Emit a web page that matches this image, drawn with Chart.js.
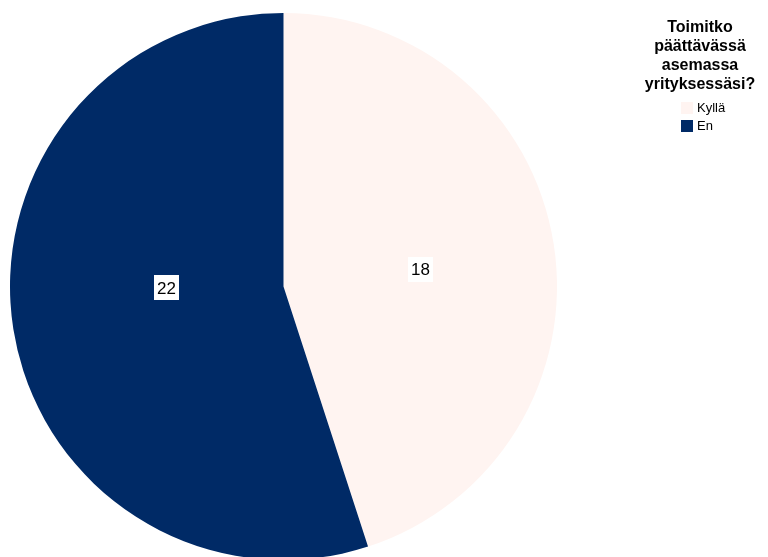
<!DOCTYPE html>
<html>
<head>
<meta charset="utf-8">
<script src="https://cdn.jsdelivr.net/npm/chart.js@4"></script>
<style>
  html, body { margin: 0; padding: 0; background: #fff; overflow: hidden; }
  #wrap { position: relative; width: 768px; height: 557px; overflow: hidden; }
  #chart { position: absolute; left: 0; top: 0; }
  #legend { position: absolute; left: 630px; top: 17px; width: 140px; font-family: "Liberation Sans", Arial, sans-serif; }
  #legend .title { font-weight: bold; font-size: 16px; line-height: 19px; text-align: center; color: #000; }
  #legend ul { list-style: none; margin: 6px 0 0 51px; padding: 0; }
  #legend li { font-size: 13px; line-height: 18px; height: 18px; color: #000; display: flex; align-items: center; }
  #legend .sw { width: 12px; height: 12px; margin-right: 4px; display: inline-block; }
</style>
</head>
<body>
<div id="wrap">
  <canvas id="chart" width="768" height="600"></canvas>
  <div id="legend"></div>
</div>
<script>
// Survey answers: "Toimitko päättävässä asemassa yrityksessäsi?"
const legendTitle = ["Toimitko", "päättävässä", "asemassa", "yrityksessäsi?"];
const categories = ["Kyllä", "En"];
const counts = [18, 22];
const sliceColors = ["#FFF4F1", "#002A66"];

// Draws each value in a white box near the slice centroid
const valueLabels = {
  id: "valueLabels",
  afterDatasetsDraw(chart, args, opts) {
    const ctx = chart.ctx;
    const meta = chart.getDatasetMeta(0);
    const nudge = opts.nudge || [];
    ctx.save();
    ctx.font = "17px 'Liberation Sans', Arial, sans-serif";
    ctx.textAlign = "center";
    ctx.textBaseline = "middle";
    meta.data.forEach((arc, i) => {
      const p = arc.tooltipPosition();
      const n = nudge[i] || [0, 0];
      const x = p.x + n[0], y = p.y + n[1];
      const text = String(chart.data.datasets[0].data[i]);
      const w = ctx.measureText(text).width + 6;
      const h = 25;
      ctx.fillStyle = "#fff";
      ctx.fillRect(Math.round(x - w / 2), Math.round(y - h / 2), Math.round(w), h);
      ctx.fillStyle = "#000";
      ctx.fillText(text, x, y + 1);
    });
    ctx.restore();
  }
};

new Chart(document.getElementById("chart"), {
  type: "pie",
  data: {
    labels: categories,
    datasets: [{
      data: counts,
      backgroundColor: sliceColors,
      borderWidth: 0
    }]
  },
  options: {
    responsive: false,
    animation: false,
    layout: { padding: { left: 10, right: 211, top: 13, bottom: 40 } },
    plugins: {
      legend: { display: false },
      tooltip: { enabled: false },
      valueLabels: { nudge: [[2, 4], [18, -20]] }
    }
  },
  plugins: [valueLabels]
});

// Legend block
const lg = document.getElementById("legend");
const t = document.createElement("div");
t.className = "title";
t.innerHTML = legendTitle.join("<br>");
lg.appendChild(t);
const ul = document.createElement("ul");
categories.forEach((c, i) => {
  const li = document.createElement("li");
  const sw = document.createElement("span");
  sw.className = "sw";
  sw.style.background = sliceColors[i];
  li.appendChild(sw);
  li.appendChild(document.createTextNode(c));
  ul.appendChild(li);
});
lg.appendChild(ul);
</script>
</body>
</html>
